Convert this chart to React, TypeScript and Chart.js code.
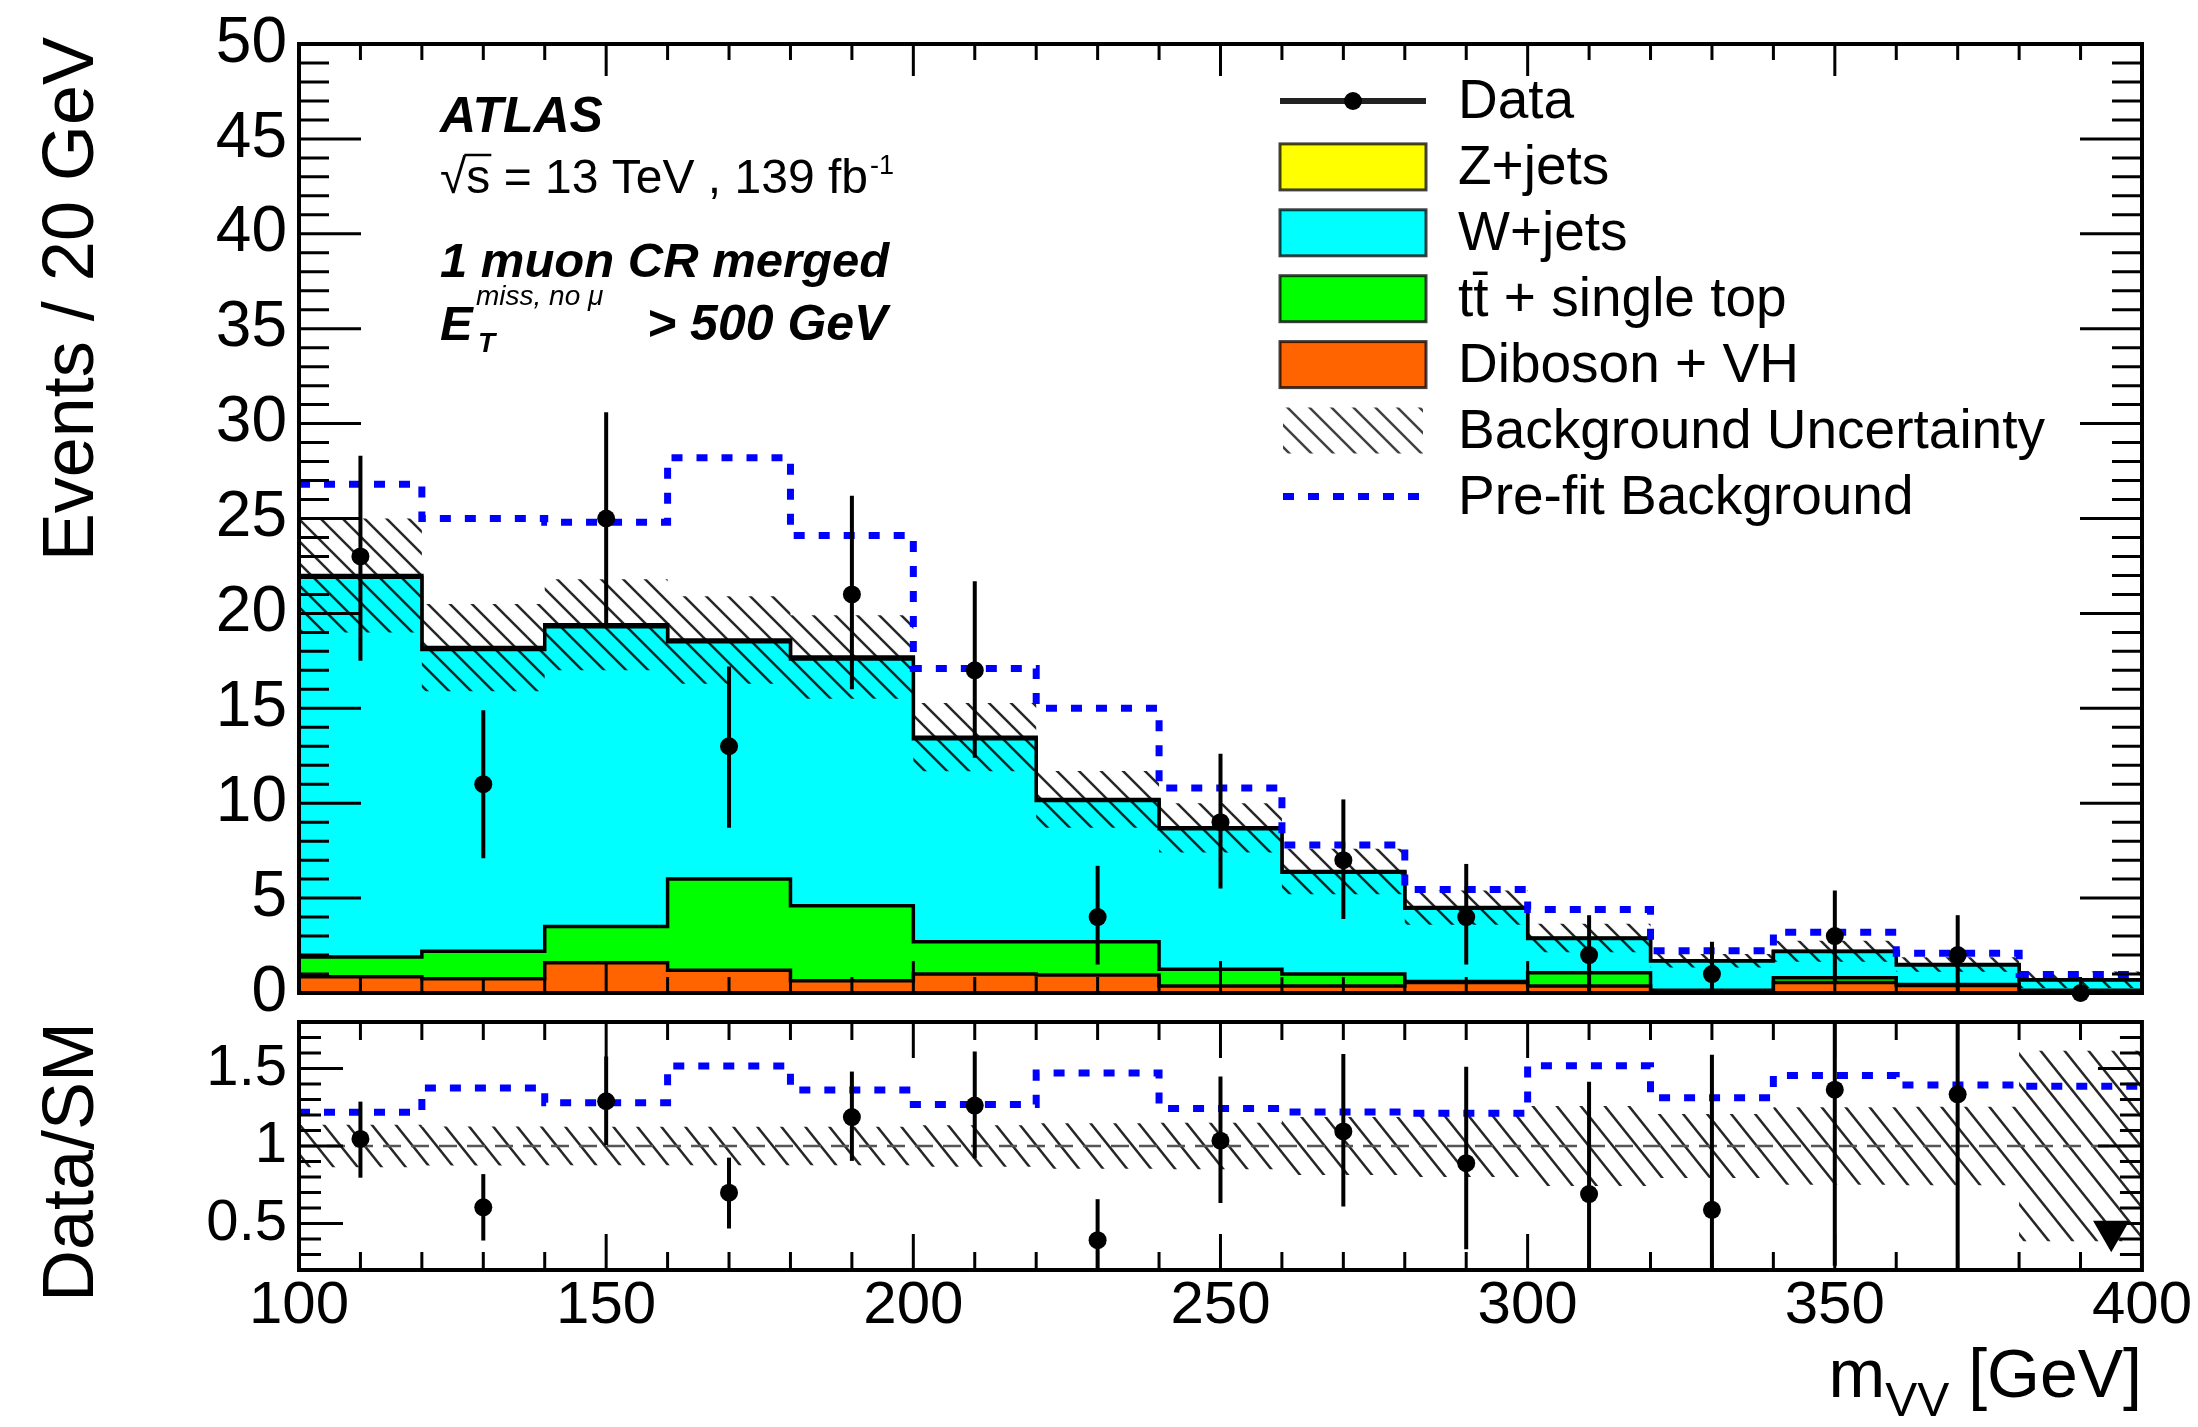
import React, { useEffect, useRef } from 'react';
import { Chart, registerables } from 'chart.js';

Chart.register(...registerables);

// ---------------- data ----------------
const binEdges = [100, 120, 140, 160, 180, 200, 220, 240, 260, 280, 300, 320, 340, 360, 380, 400];
const binCenters = [110, 130, 150, 170, 190, 210, 230, 250, 270, 290, 310, 330, 350, 370, 390];

const dataCounts = [23, 11, 25, 13, 21, 17, 4, 9, 7, 4, 2, 1, 3, 2, 0];
const dataErrUp = [5.3, 3.9, 5.6, 4.2, 5.2, 4.7, 2.7, 3.6, 3.2, 2.8, 2.1, 1.7, 2.4, 2.1, 0];
const dataErrDown = [5.5, 3.9, 5.5, 4.3, 5.0, 4.6, 2.5, 3.5, 3.1, 2.5, 2.0, 1.0, 2.5, 2.0, 0];

const zJets = [0.1, 0.1, 0.1, 0.1, 0.1, 0.08, 0.06, 0.05, 0.04, 0.03, 0.03, 0.02, 0.02, 0.02, 0.01];
const wJets = [20.0, 15.9, 15.8, 12.5, 13.0, 10.7, 7.44, 7.4, 5.36, 3.87, 1.8, 1.53, 1.38, 1.03, 0.54];
const ttbarSingleTop = [1.05, 1.45, 1.9, 4.8, 3.95, 1.7, 1.75, 0.88, 0.63, 0.05, 0.7, 0.05, 0.25, 0.05, 0.05];
const dibosonVH = [0.85, 0.75, 1.6, 1.2, 0.65, 1.0, 0.95, 0.37, 0.37, 0.55, 0.37, 0.1, 0.55, 0.4, 0.1];
const bkgUncertainty = [3.0, 2.3, 2.4, 2.3, 2.2, 1.8, 1.5, 1.3, 1.2, 0.9, 0.75, 0.35, 0.55, 0.38, 0.43];
const preFitBackground = [26.8, 25.0, 24.8, 28.2, 24.1, 17.1, 15.0, 10.8, 7.8, 5.45, 4.4, 2.23, 3.2, 2.09, 0.97];

const mainYTicks = [0, 5, 10, 15, 20, 25, 30, 35, 40, 45, 50];
const ratioYTicks = [0.5, 1, 1.5];
const xTicks = [100, 150, 200, 250, 300, 350, 400];
const mainRange = [0, 50];
const ratioRange = [0.2, 1.8];
const ratioReference = [1, 1];
const offscaleArrowShift = 5; // GeV
const offscaleArrowLift = 0.25; // ratio units above the axis minimum

const legendLabels = [
  'Data',
  'Z+jets',
  'W+jets',
  't\u0074\u0304 + single top',
  'Diboson + VH',
  'Background Uncertainty',
  'Pre-fit Background',
];

// ---------------- layout / style ----------------
const FONT = '"Liberation Sans", Arial, Helvetica, sans-serif';
const W = 2198;
const H = 1427;
const PLOT_LEFT = 299;
const PLOT_RIGHT = 2142;
const MAIN_TOP = 37;
const MAIN_BOTTOM = 993;
const RATIO_TOP = 1022;
const RATIO_BOTTOM = 1270;
const X_AXIS_H = 110;

const COL_Z = '#ffff00';
const COL_W = '#00ffff';
const COL_TOP = '#00ff00';
const COL_DIB = '#ff6400';
const COL_PREFIT = '#0000ff';

const sumArrays = (...arrs: number[][]) => arrs[0].map((_, i) => arrs.reduce((s, a) => s + a[i], 0));
const stepData = (vals: number[]) => binEdges.map((x, i) => ({ x, y: vals[Math.min(i, vals.length - 1)] }));

function makeHatch(w: number, h: number, lw: number, color: string) {
  const c = document.createElement('canvas');
  c.width = w;
  c.height = h;
  const g = c.getContext('2d')!;
  g.strokeStyle = color;
  g.lineWidth = lw;
  for (let k = -1; k <= 1; k++) {
    g.beginPath();
    g.moveTo(k * w - w * 0.5, -h * 0.5);
    g.lineTo(k * w + w * 1.5, h * 1.5);
    g.stroke();
  }
  return g.createPattern(c, 'repeat')!;
}

function rootAxes(id: string, t: any) {
  return {
    id,
    afterDatasetsDraw(chart: any) {
      const ctx = chart.ctx;
      const { left, right, top, bottom } = chart.chartArea;
      const xs = chart.scales.x;
      const ys = chart.scales.y;
      ctx.save();
      if (t.errorBars) {
        ctx.save();
        ctx.beginPath();
        ctx.rect(left, top, right - left, bottom - top);
        ctx.clip();
        t.errorBars(chart, ctx);
        ctx.restore();
      }
      ctx.strokeStyle = '#000';
      ctx.lineWidth = 3;
      ctx.beginPath();
      const xe = Math.round(t.xMajor / t.xMinor);
      for (let k = Math.round(xs.min / t.xMinor) + 1; k < Math.round(xs.max / t.xMinor); k++) {
        const px = xs.getPixelForValue(k * t.xMinor);
        const len = k % xe === 0 ? t.xMajorLen : t.xMinorLen;
        ctx.moveTo(px, bottom);
        ctx.lineTo(px, bottom - len);
        ctx.moveTo(px, top);
        ctx.lineTo(px, top + len);
      }
      const ye = Math.round(t.yMajor / t.yMinor);
      for (let k = Math.round(ys.min / t.yMinor) + 1; k < Math.round(ys.max / t.yMinor); k++) {
        const py = ys.getPixelForValue(k * t.yMinor);
        const len = k % ye === 0 ? t.yMajorLen : t.yMinorLen;
        ctx.moveTo(left, py);
        ctx.lineTo(left + len, py);
        ctx.moveTo(right, py);
        ctx.lineTo(right - len, py);
      }
      ctx.stroke();
      ctx.lineWidth = 4;
      ctx.strokeRect(left, top, right - left, bottom - top);
      ctx.restore();
    },
  };
}

export default function App() {
  const topRef = useRef<HTMLCanvasElement>(null);
  const botRef = useRef<HTMLCanvasElement>(null);

  useEffect(() => {
    Chart.defaults.font.family = FONT;
    Chart.defaults.color = '#000';

    const total = sumArrays(zJets, wJets, ttbarSingleTop, dibosonVH);
    const cumTop = sumArrays(ttbarSingleTop, dibosonVH);
    const cumW = sumArrays(wJets, ttbarSingleTop, dibosonVH);
    const hatchMain = makeHatch(22, 22, 2.5, 'rgba(0,0,0,0.85)');
    const hatchRatio = makeHatch(24, 30, 2.5, 'rgba(0,0,0,0.85)');
    const hatchLegend = makeHatch(22, 22, 2.5, 'rgba(0,0,0,0.75)');

    const histLine = (vals: number[], color: string, order: number) => ({
      data: stepData(vals),
      stepped: 'before',
      fill: 'origin',
      backgroundColor: color,
      borderColor: '#000',
      borderWidth: 3.5,
      pointRadius: 0,
      order,
    });

    const yAxisCommon = (size: number, ticksList: number[], range: number[]) => ({
      type: 'linear',
      min: range[0],
      max: range[1],
      afterFit: (s: any) => {
        s.width = PLOT_LEFT;
      },
      afterBuildTicks: (s: any) => {
        s.ticks = ticksList.map((v) => ({ value: v }));
      },
      grid: { display: false, drawTicks: false },
      border: { display: false },
      ticks: {
        font: { size, lineHeight: 1 },
        color: '#000',
        padding: 12,
        autoSkip: false,
        callback: (v: any) => String(v),
      },
    });

    const mainText = {
      id: 'mainText',
      afterDraw(chart: any) {
        const ctx = chart.ctx;
        ctx.save();
        ctx.fillStyle = '#000';
        ctx.textBaseline = 'alphabetic';
        // y title
        ctx.save();
        ctx.translate(93, MAIN_TOP);
        ctx.rotate(-Math.PI / 2);
        ctx.font = `72px ${FONT}`;
        ctx.textAlign = 'right';
        ctx.fillText('Events / 20 GeV', 0, 0);
        ctx.restore();

        ctx.textAlign = 'left';
        ctx.font = `italic bold 50px ${FONT}`;
        ctx.fillText('ATLAS', 440, 132);
        ctx.font = `48px ${FONT}`;
        const s1 = '\u221As = 13 TeV , 139 fb';
        ctx.fillText(s1, 440, 193);
        const wRad = ctx.measureText('\u221A').width;
        const wS = ctx.measureText('s').width;
        const w1 = ctx.measureText(s1).width;
        ctx.strokeStyle = '#000';
        ctx.lineWidth = 2.5;
        ctx.beginPath();
        ctx.moveTo(440 + wRad - 2, 193 - 38);
        ctx.lineTo(440 + wRad + wS + 1, 193 - 38);
        ctx.stroke();
        ctx.font = `27px ${FONT}`;
        ctx.fillText('-1', 440 + w1 + 2, 174);
        ctx.font = `italic bold 49px ${FONT}`;
        ctx.fillText('1 muon CR merged', 440, 277);
        ctx.fillText('E', 440, 340);
        ctx.font = `italic bold 28px ${FONT}`;
        ctx.fillText('T', 478, 352);
        ctx.font = `italic 28px ${FONT}`;
        ctx.fillText('miss, no \u03BC', 476, 305);
        ctx.font = `italic bold 50px ${FONT}`;
        ctx.fillText('> 500 GeV', 647, 340);

        // legend
        const LX0 = 1280;
        const LX1 = 1426;
        const LTX = 1458;
        const LY0 = 101;
        const LDY = 65.9;
        const fills = [null, COL_Z, COL_W, COL_TOP, COL_DIB];
        legendLabels.forEach((lab, i) => {
          const cy = LY0 + i * LDY;
          if (i === 0) {
            ctx.strokeStyle = '#222';
            ctx.lineWidth = 6;
            ctx.beginPath();
            ctx.moveTo(LX0, cy);
            ctx.lineTo(LX1, cy);
            ctx.stroke();
            ctx.fillStyle = '#000';
            ctx.beginPath();
            ctx.arc((LX0 + LX1) / 2, cy, 9, 0, Math.PI * 2);
            ctx.fill();
          } else if (i <= 4) {
            ctx.fillStyle = fills[i] as string;
            ctx.fillRect(LX0, cy - 23, LX1 - LX0, 46);
            ctx.strokeStyle = 'rgba(0,0,0,0.75)';
            ctx.lineWidth = 3;
            ctx.strokeRect(LX0, cy - 23, LX1 - LX0, 46);
          } else if (i === 5) {
            ctx.fillStyle = hatchLegend;
            ctx.fillRect(LX0 + 3, cy - 23, LX1 - LX0 - 6, 46);
          } else {
            ctx.strokeStyle = COL_PREFIT;
            ctx.lineWidth = 7;
            ctx.setLineDash([11, 14]);
            ctx.beginPath();
            ctx.moveTo(LX0 + 3, cy);
            ctx.lineTo(LX1 - 6, cy);
            ctx.stroke();
            ctx.setLineDash([]);
          }
          ctx.fillStyle = '#000';
          ctx.font = `55px ${FONT}`;
          ctx.textBaseline = 'middle';
          ctx.fillText(lab, LTX, cy + 2);
          ctx.textBaseline = 'alphabetic';
        });
        ctx.restore();
      },
    };

    const mainChart = new Chart(topRef.current!, {
      type: 'line',
      data: {
        datasets: [
          {
            label: 'Data',
            data: binCenters.map((x, i) => ({ x, y: dataCounts[i] })),
            showLine: false,
            pointRadius: 9,
            pointBackgroundColor: '#000',
            pointBorderColor: '#000',
            pointBorderWidth: 0,
            clip: false,
            order: 0,
          },
          {
            label: 'Pre-fit Background',
            data: stepData(preFitBackground),
            stepped: 'before',
            borderColor: COL_PREFIT,
            borderWidth: 7,
            borderDash: [11, 14],
            fill: false,
            pointRadius: 0,
            order: 1,
          },
          {
            label: 'unc hi',
            data: stepData(total.map((t, i) => t + bkgUncertainty[i])),
            stepped: 'before',
            borderWidth: 0,
            borderColor: 'transparent',
            backgroundColor: hatchMain,
            fill: 3,
            pointRadius: 0,
            order: 2,
          },
          {
            label: 'unc lo',
            data: stepData(total.map((t, i) => t - bkgUncertainty[i])),
            stepped: 'before',
            borderWidth: 0,
            borderColor: 'transparent',
            fill: false,
            pointRadius: 0,
            order: 3,
          },
          histLine(dibosonVH, COL_DIB, 4),
          histLine(cumTop, COL_TOP, 5),
          histLine(cumW, COL_W, 6),
          histLine(total, COL_Z, 7),
        ] as any,
      },
      options: {
        responsive: false,
        animation: false,
        devicePixelRatio: 1,
        events: [],
        layout: { padding: { top: MAIN_TOP, left: 0, right: W - PLOT_RIGHT, bottom: H - MAIN_BOTTOM } },
        plugins: { legend: { display: false }, tooltip: { enabled: false } },
        scales: {
          x: { type: 'linear', min: 100, max: 400, display: false },
          y: yAxisCommon(64, mainYTicks, mainRange),
        } as any,
      },
      plugins: [
        rootAxes('rootAxesMain', {
          xMinor: 10, xMajor: 50, xMinorLen: 16, xMajorLen: 32,
          yMinor: 1, yMajor: 5, yMinorLen: 30, yMajorLen: 62,
          errorBars: (chart: any, ctx: any) => {
            const xs = chart.scales.x;
            const ys = chart.scales.y;
            ctx.strokeStyle = '#000';
            ctx.lineWidth = 4;
            binCenters.forEach((xc, i) => {
              if (!dataErrUp[i] && !dataErrDown[i]) return;
              const px = xs.getPixelForValue(xc);
              ctx.beginPath();
              ctx.moveTo(px, ys.getPixelForValue(dataCounts[i] + dataErrUp[i]));
              ctx.lineTo(px, ys.getPixelForValue(dataCounts[i] - dataErrDown[i]));
              ctx.stroke();
            });
          },
        }),
        mainText,
      ] as any,
    } as any);

    // ratio panel
    const ratio = dataCounts.map((c, i) => c / total[i]);
    const ratioPoints = binCenters
      .map((x, i) => ({ x, y: ratio[i] }))
      .filter((p) => p.y >= ratioRange[0]);
    const arrowPoints = binCenters
      .map((x, i) => ({ x: x + offscaleArrowShift, y: ratioRange[0] + offscaleArrowLift, r: ratio[i] }))
      .filter((p) => p.r < ratioRange[0])
      .map((p) => ({ x: p.x, y: p.y }));

    const ratioText = {
      id: 'ratioText',
      afterDraw(chart: any) {
        const ctx = chart.ctx;
        ctx.save();
        ctx.fillStyle = '#000';
        ctx.textBaseline = 'alphabetic';
        ctx.save();
        ctx.translate(93, RATIO_TOP);
        ctx.rotate(-Math.PI / 2);
        ctx.font = `72px ${FONT}`;
        ctx.textAlign = 'right';
        ctx.fillText('Data/SM', 0, 0);
        ctx.restore();
        ctx.textAlign = 'left';
        ctx.font = `68px ${FONT}`;
        const wm = ctx.measureText('m').width;
        const wr = ctx.measureText(' [GeV]').width;
        ctx.font = `48px ${FONT}`;
        const wv = ctx.measureText('VV').width;
        const x0 = PLOT_RIGHT - (wm + wv + wr);
        ctx.font = `68px ${FONT}`;
        ctx.fillText('m', x0, 1397);
        ctx.fillText(' [GeV]', x0 + wm + wv, 1397);
        ctx.font = `48px ${FONT}`;
        ctx.fillText('VV', x0 + wm, 1416);
        ctx.restore();
      },
    };

    const ratioChart = new Chart(botRef.current!, {
      type: 'line',
      data: {
        datasets: [
          {
            label: 'Data/SM',
            data: ratioPoints,
            showLine: false,
            pointRadius: 9,
            pointBackgroundColor: '#000',
            pointBorderWidth: 0,
            order: 0,
          },
          {
            label: 'off-scale',
            data: arrowPoints,
            showLine: false,
            pointStyle: 'triangle',
            pointRotation: 180,
            pointRadius: 21,
            pointBackgroundColor: '#000',
            pointBorderWidth: 0,
            clip: false,
            order: 1,
          },
          {
            label: 'Pre-fit ratio',
            data: stepData(preFitBackground.map((p, i) => p / total[i])),
            stepped: 'before',
            borderColor: COL_PREFIT,
            borderWidth: 7,
            borderDash: [11, 14],
            fill: false,
            pointRadius: 0,
            order: 2,
          },
          {
            label: 'reference',
            data: [
              { x: binEdges[0], y: ratioReference[0] },
              { x: binEdges[binEdges.length - 1], y: ratioReference[1] },
            ],
            borderColor: '#555',
            borderWidth: 2.5,
            borderDash: [18, 10],
            fill: false,
            pointRadius: 0,
            order: 3,
          },
          {
            label: 'band hi',
            data: stepData(total.map((t, i) => 1 + bkgUncertainty[i] / t)),
            stepped: 'before',
            borderWidth: 0,
            borderColor: 'transparent',
            backgroundColor: hatchRatio,
            fill: 5,
            pointRadius: 0,
            order: 4,
          },
          {
            label: 'band lo',
            data: stepData(total.map((t, i) => 1 - bkgUncertainty[i] / t)),
            stepped: 'before',
            borderWidth: 0,
            borderColor: 'transparent',
            fill: false,
            pointRadius: 0,
            order: 5,
          },
        ] as any,
      },
      options: {
        responsive: false,
        animation: false,
        devicePixelRatio: 1,
        events: [],
        layout: {
          padding: { top: RATIO_TOP, left: 0, right: W - PLOT_RIGHT, bottom: H - RATIO_BOTTOM - X_AXIS_H },
        },
        plugins: { legend: { display: false }, tooltip: { enabled: false } },
        scales: {
          x: {
            type: 'linear',
            min: 100,
            max: 400,
            afterFit: (s: any) => {
              s.height = X_AXIS_H;
            },
            afterBuildTicks: (s: any) => {
              s.ticks = xTicks.map((v) => ({ value: v }));
            },
            grid: { display: false, drawTicks: false },
            border: { display: false },
            ticks: {
              font: { size: 60, lineHeight: 1 },
              color: '#000',
              padding: 6,
              autoSkip: false,
              maxRotation: 0,
              callback: (v: any) => String(v),
            },
          },
          y: yAxisCommon(58, ratioYTicks, ratioRange),
        } as any,
      },
      plugins: [
        rootAxes('rootAxesRatio', {
          xMinor: 10, xMajor: 50, xMinorLen: 18, xMajorLen: 36,
          yMinor: 0.1, yMajor: 0.5, yMinorLen: 22, yMajorLen: 44,
          errorBars: (chart: any, ctx: any) => {
            const xs = chart.scales.x;
            const ys = chart.scales.y;
            ctx.strokeStyle = '#000';
            ctx.lineWidth = 4;
            binCenters.forEach((xc, i) => {
              if (!dataErrUp[i] && !dataErrDown[i]) return;
              const px = xs.getPixelForValue(xc);
              ctx.beginPath();
              ctx.moveTo(px, ys.getPixelForValue((dataCounts[i] + dataErrUp[i]) / total[i]));
              ctx.lineTo(px, ys.getPixelForValue((dataCounts[i] - dataErrDown[i]) / total[i]));
              ctx.stroke();
            });
          },
        }),
        ratioText,
      ] as any,
    } as any);

    return () => {
      mainChart.destroy();
      ratioChart.destroy();
    };
  }, []);

  return (
    <div style={{ position: 'absolute', left: 0, top: 0, width: W, height: H, background: '#fff', overflow: 'hidden' }}>
      <canvas ref={topRef} width={W} height={H} style={{ position: 'absolute', left: 0, top: 0 }} />
      <canvas ref={botRef} width={W} height={H} style={{ position: 'absolute', left: 0, top: 0 }} />
    </div>
  );
}
